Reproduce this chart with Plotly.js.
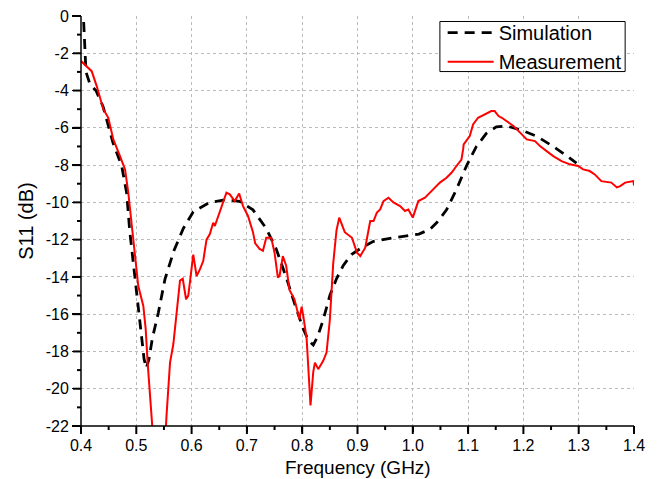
<!DOCTYPE html>
<html>
<head>
<meta charset="utf-8">
<script src="https://cdn.plot.ly/plotly-3.0.1.min.js"></script>
<style>html,body{margin:0;padding:0;background:#fff;}#chart{width:662px;height:479px;}</style>
</head>
<body>
<div id="chart"></div>
<script>
var simFreq = [0.4020,0.4045,0.4090,0.4163,0.4270,0.4398,0.4579,0.4736,0.4826,0.4880,0.4920,0.4990,0.5080,0.5140,0.5180,0.5230,0.5290,0.5400,0.5520,0.5680,0.5850,0.6030,0.6330,0.6630,0.6870,0.7110,0.7350,0.7530,0.7720,0.7870,0.8020,0.8110,0.8200,0.8280,0.8380,0.8500,0.8620,0.8740,0.8890,0.9040,0.9280,0.9650,0.9890,1.0110,1.0310,1.0430,1.0610,1.0790,1.0970,1.1150,1.1330,1.1510,1.1690,1.1940,1.2240,1.2540,1.2780,1.2960];
var simS11 = [1.5,0.0,-3.0,-3.67,-4.0,-4.85,-6.8,-8.05,-9.5,-11.5,-12.6,-14.7,-16.8,-18.4,-18.9,-18.4,-17.3,-15.9,-14.1,-12.6,-11.4,-10.5,-10.0,-9.85,-9.95,-10.4,-11.4,-12.5,-14.1,-15.5,-16.8,-17.4,-17.65,-17.2,-16.3,-15.0,-14.1,-13.4,-12.8,-12.5,-12.1,-11.9,-11.8,-11.7,-11.45,-11.1,-10.4,-9.3,-8.05,-7.0,-6.3,-5.95,-5.9,-6.1,-6.45,-7.0,-7.5,-7.9];

var measFreq = [0.4000,0.4103,0.4193,0.4284,0.4403,0.4494,0.4584,0.4705,0.4797,0.4855,0.4916,0.4976,0.5036,0.5127,0.5170,0.5205,0.5248,0.5277,0.5350,0.5520,0.5545,0.5610,0.5670,0.5730,0.5790,0.5840,0.5900,0.5940,0.6000,0.6030,0.6090,0.6150,0.6210,0.6270,0.6330,0.6390,0.6420,0.6480,0.6570,0.6630,0.6690,0.6780,0.6860,0.6930,0.7020,0.7110,0.7150,0.7230,0.7290,0.7350,0.7440,0.7500,0.7560,0.7590,0.7650,0.7710,0.7770,0.7860,0.7950,0.7990,0.8020,0.8080,0.8150,0.8200,0.8230,0.8290,0.8380,0.8440,0.8500,0.8560,0.8620,0.8670,0.8770,0.8900,0.8990,0.9050,0.9140,0.9230,0.9290,0.9350,0.9410,0.9470,0.9560,0.9650,0.9770,0.9860,0.9920,1.0000,1.0100,1.0220,1.0310,1.0370,1.0490,1.0610,1.0700,1.0790,1.0880,1.0910,1.0920,1.1030,1.1090,1.1180,1.1300,1.1420,1.1480,1.1550,1.1610,1.1700,1.1820,1.1940,1.2060,1.2210,1.2300,1.2420,1.2540,1.2690,1.2840,1.2990,1.3080,1.3200,1.3290,1.3410,1.3590,1.3690,1.3750,1.3840,1.3990,1.4000];
var measS11 = [-2.42,-2.69,-2.96,-3.76,-5.0,-5.46,-6.62,-7.52,-8.23,-9.48,-11.09,-12.88,-14.49,-15.56,-16.8,-18.6,-20.4,-22.2,-24.5,-23.0,-21.5,-18.6,-17.6,-15.9,-14.2,-14.1,-15.2,-15.0,-13.4,-12.8,-13.95,-13.6,-13.15,-12.0,-11.7,-11.09,-11.27,-10.73,-10.0,-9.48,-9.57,-9.93,-9.52,-10.2,-10.73,-11.6,-12.2,-12.5,-12.6,-11.9,-11.9,-12.7,-14.04,-13.95,-12.88,-13.4,-14.7,-15.2,-16.27,-15.6,-16.1,-17.3,-20.9,-19.1,-18.6,-18.95,-18.5,-18.06,-16.3,-13.3,-11.5,-10.82,-11.6,-11.9,-12.7,-12.88,-12.43,-11.0,-11.0,-10.55,-10.38,-9.93,-9.75,-10.0,-10.2,-10.46,-10.38,-10.82,-9.93,-9.75,-9.48,-9.3,-8.94,-8.68,-8.41,-8.05,-7.7,-7.16,-6.89,-6.44,-5.82,-5.46,-5.28,-5.1,-5.1,-5.37,-5.46,-5.64,-5.9,-6.26,-6.62,-6.71,-6.98,-7.25,-7.52,-7.79,-7.96,-8.05,-8.23,-8.32,-8.5,-8.86,-8.94,-9.2,-9.13,-8.94,-8.86,-9.1];

var xTickVals = [0.4,0.5,0.6,0.7,0.8,0.9,1.0,1.1,1.2,1.3,1.4];
var xTickText = ["0.4","0.5","0.6","0.7","0.8","0.9","1.0","1.1","1.2","1.3","1.4"];
var yTickVals = [0,-2,-4,-6,-8,-10,-12,-14,-16,-18,-20,-22];
var yTickText = ["0","-2","-4","-6","-8","-10","-12","-14","-16","-18","-20","-22"];
var X_RANGE = [0.4, 1.4];
var Y_RANGE = [-22, 0];

var FONT = "Liberation Sans, Arial, sans-serif";
var PLOT_W = 662 - 81 - 28, PLOT_H = 479 - 16 - 53;
var MAJOR_LEN = 8, MINOR_LEN = 4;

function xp(v) { return (v - X_RANGE[0]) / (X_RANGE[1] - X_RANGE[0]); }
function yp(v) { return (v - Y_RANGE[0]) / (Y_RANGE[1] - Y_RANGE[0]); }
var shapes = [];
function tickLine(v, len, isX) {
  if (isX) return {type: "line", xref: "paper", yref: "paper", x0: xp(v), x1: xp(v), y0: 0, y1: -len / PLOT_H,
                   line: {color: "#000000", width: 2}, layer: "above"};
  return {type: "line", xref: "paper", yref: "paper", x0: 0, x1: -len / PLOT_W, y0: yp(v), y1: yp(v),
          line: {color: "#000000", width: 2}, layer: "above"};
}
xTickVals.forEach(function (v, i) {
  shapes.push(tickLine(v, MAJOR_LEN, true));
  if (i < xTickVals.length - 1) shapes.push(tickLine((v + xTickVals[i + 1]) / 2, MINOR_LEN, true));
});
yTickVals.forEach(function (v, i) {
  shapes.push(tickLine(v, MAJOR_LEN, false));
  if (i < yTickVals.length - 1) shapes.push(tickLine((v + yTickVals[i + 1]) / 2, MINOR_LEN, false));
});
shapes.push({type: "line", xref: "paper", yref: "paper", x0: 0, x1: 1, y0: 0, y1: 0, line: {color: "#000000", width: 1.5}, layer: "above"});
shapes.push({type: "line", xref: "paper", yref: "paper", x0: 0, x1: 0, y0: 0, y1: 1, line: {color: "#000000", width: 1.5}, layer: "above"});
shapes.push({type: "rect", xref: "paper", yref: "paper", x0: 0.649, x1: 0.984, y0: 0.8645, y1: 0.9866,
             line: {color: "#000000", width: 1}, fillcolor: "#ffffff", layer: "above"});

var traces = [
  {x: simFreq, y: simS11, name: "Simulation", mode: "lines", type: "scatter",
   line: {color: "#000000", width: 2.8, dash: "10px,7px"}},
  {x: measFreq, y: measS11, name: "Measurement", mode: "lines", type: "scatter",
   line: {color: "#ff0000", width: 2}}
];

var layout = {
  width: 662, height: 479,
  margin: {l: 81, r: 28, t: 16, b: 53},
  paper_bgcolor: "#ffffff", plot_bgcolor: "#ffffff",
  font: {family: FONT, color: "#000000", size: 16},
  showlegend: true,
  legend: {x: 0.654, y: 1.007, xanchor: "left", yanchor: "top",
    borderwidth: 0, bgcolor: "rgba(0,0,0,0)",
    font: {family: FONT, size: 20, color: "#000000"},
    tracegroupgap: 0, itemwidth: 46},
  shapes: shapes,
  annotations: [
    {text: "Frequency (GHz)", xref: "paper", yref: "paper", x: 0.5, y: -0.1,
     xanchor: "center", yanchor: "middle", showarrow: false,
     font: {family: FONT, size: 19, color: "#000000"}}
  ],
  xaxis: {
    range: X_RANGE, tickmode: "array", tickvals: xTickVals, ticktext: xTickText,
    ticks: "outside", ticklen: 5, tickwidth: 1.5, tickcolor: "#000000",
    showline: false, zeroline: false,
    showgrid: true, gridcolor: "#bbbbbb", griddash: "dot", gridwidth: 1,
    tickfont: {family: FONT, size: 16}
  },
  yaxis: {
    range: Y_RANGE, tickmode: "array", tickvals: yTickVals, ticktext: yTickText,
    ticks: "outside", ticklen: 8, tickwidth: 1.5, tickcolor: "#000000",
    showline: false, zeroline: false,
    showgrid: true, gridcolor: "#bbbbbb", griddash: "dot", gridwidth: 1,
    tickfont: {family: FONT, size: 16},
    title: {text: "S11 (dB)", font: {family: FONT, size: 20}, standoff: 6}
  }
};

Plotly.newPlot("chart", traces, layout, {staticPlot: true, displayModeBar: false});
</script>
</body>
</html>
